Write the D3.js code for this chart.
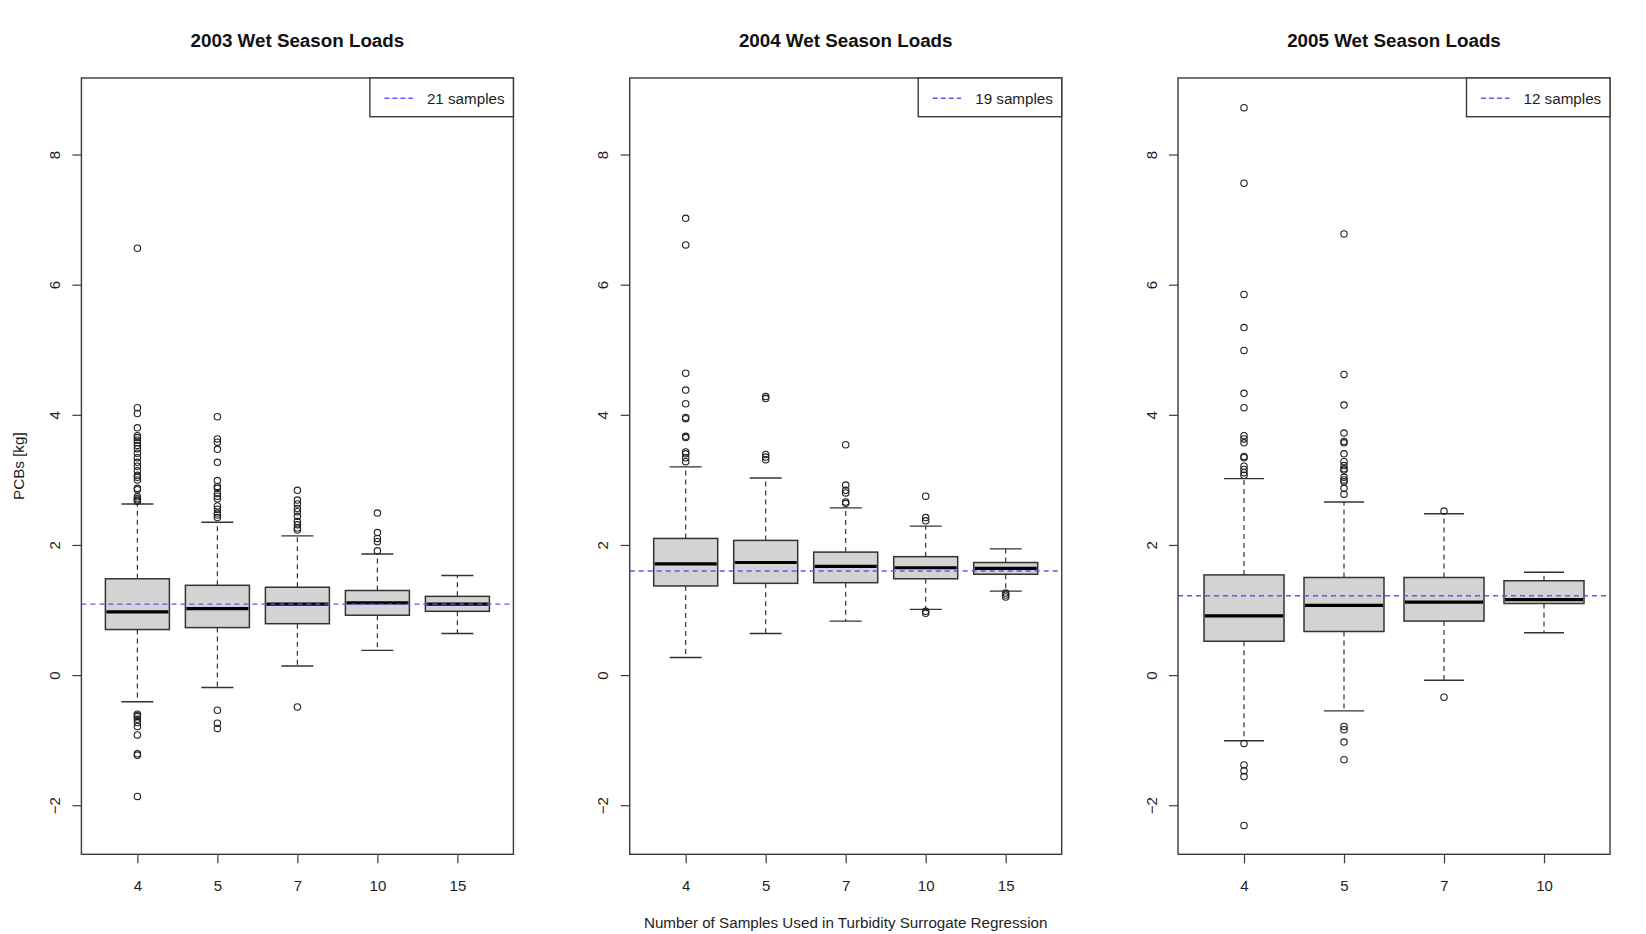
<!DOCTYPE html>
<html>
<head>
<meta charset="utf-8">
<script src="https://cdn.jsdelivr.net/npm/d3@7"></script>
<style>
  html, body { margin: 0; padding: 0; background: #ffffff; }
  svg { display: block; font-family: "Liberation Sans", Arial, sans-serif; }
</style>
</head>
<body>
<svg id="chart" width="1646" height="934"></svg>
<script>
// ---------------- DATA ----------------
const panelTitles = ["2003 Wet Season Loads", "2004 Wet Season Loads", "2005 Wet Season Loads"];
const legendLabels = ["21 samples", "19 samples", "12 samples"];
const referenceValues = [1.09, 1.60, 1.22];
const yTickValues = [-2, 0, 2, 4, 6, 8];
const yAxisTitle = "PCBs [kg]";
const xAxisTitle = "Number of Samples Used in Turbidity Surrogate Regression";

// 2003
const categories2003 = ["4", "5", "7", "10", "15"];
const lower2003  = [-0.41, -0.19, 0.14, 0.38, 0.64];
const q1_2003    = [0.70, 0.73, 0.79, 0.92, 0.98];
const median2003 = [0.97, 1.02, 1.09, 1.11, 1.09];
const q3_2003    = [1.48, 1.38, 1.35, 1.30, 1.21];
const upper2003  = [2.63, 2.35, 2.14, 1.86, 1.53];
const outliers2003 = [
  [6.56, 4.11, 4.02, 3.80, 3.68, 3.65, 3.61, 3.57, 3.53, 3.48, 3.41, 3.34, 3.27, 3.21, 3.14, 3.07, 3.04, 3.00, 2.87, 2.85, 2.74, 2.71, 2.69, 2.67,
   -0.60, -0.62, -0.64, -0.68, -0.73, -0.79, -0.92, -1.21, -1.23, -1.865],
  [3.97, 3.63, 3.58, 3.47, 3.27, 2.99, 2.90, 2.87, 2.79, 2.75, 2.71, 2.60, 2.55, 2.49, 2.46, 2.42, -0.54, -0.74, -0.82],
  [2.84, 2.69, 2.63, 2.56, 2.51, 2.44, 2.36, 2.31, 2.26, 2.23, -0.49],
  [2.49, 2.19, 2.10, 2.05, 1.91],
  []
];

// 2004
const categories2004 = ["4", "5", "7", "10", "15"];
const lower2004  = [0.27, 0.64, 0.83, 1.01, 1.29];
const q1_2004    = [1.37, 1.41, 1.42, 1.48, 1.55];
const median2004 = [1.71, 1.73, 1.67, 1.65, 1.64];
const q3_2004    = [2.10, 2.07, 1.89, 1.82, 1.73];
const upper2004  = [3.20, 3.03, 2.57, 2.29, 1.94];
const outliers2004 = [
  [7.02, 6.61, 4.64, 4.38, 4.17, 3.96, 3.94, 3.67, 3.65, 3.43, 3.40, 3.34, 3.28],
  [4.28, 4.25, 3.39, 3.35, 3.31],
  [3.54, 2.92, 2.84, 2.80, 2.66, 2.64],
  [2.75, 2.42, 2.37, 0.98, 0.95],
  [1.26, 1.23, 1.20]
];

// 2005
const categories2005 = ["4", "5", "7", "10"];
const lower2005  = [-1.01, -0.55, -0.08, 0.65];
const q1_2005    = [0.52, 0.67, 0.83, 1.10];
const median2005 = [0.91, 1.07, 1.12, 1.16];
const q3_2005    = [1.54, 1.50, 1.50, 1.45];
const upper2005  = [3.02, 2.66, 2.48, 1.58];
const outliers2005 = [
  [8.72, 7.56, 5.85, 5.34, 4.99, 4.33, 4.11, 3.68, 3.63, 3.57, 3.36, 3.34, 3.21, 3.16, 3.11, 3.07, -1.05, -1.38, -1.47, -1.56, -2.31],
  [6.78, 4.62, 4.15, 3.72, 3.59, 3.57, 3.40, 3.28, 3.22, 3.17, 3.15, 3.04, 3.00, 2.97, 2.87, 2.78, -0.79, -0.84, -1.03, -1.30],
  [2.52, -0.34],
  []
];

// --------------- assemble panels ---------------
const panels = [
  {title: panelTitles[0], legend: legendLabels[0], ref: referenceValues[0], cats: categories2003,
   lo: lower2003, q1: q1_2003, med: median2003, q3: q3_2003, hi: upper2003, out: outliers2003},
  {title: panelTitles[1], legend: legendLabels[1], ref: referenceValues[1], cats: categories2004,
   lo: lower2004, q1: q1_2004, med: median2004, q3: q3_2004, hi: upper2004, out: outliers2004},
  {title: panelTitles[2], legend: legendLabels[2], ref: referenceValues[2], cats: categories2005,
   lo: lower2005, q1: q1_2005, med: median2005, q3: q3_2005, hi: upper2005, out: outliers2005}
];

// --------------- layout ---------------
const svg = d3.select("#chart");
const firstLeft = 81.4, pitch = 548.3, plotW = 432;
const plotTop = 78, plotBottom = 854.3;
const axisColor = "#3a3a3a";
const textColor = "#1e1e1e";

const y = d3.scaleLinear().domain([-2.754, 9.176]).range([plotBottom, plotTop]);

panels.forEach((p, i) => {
  const left = firstLeft + i * pitch;
  const n = p.cats.length;
  const x = d3.scaleLinear()
    .domain([0.5 - 0.04 * n, n + 0.5 + 0.04 * n])
    .range([left, left + plotW]);
  const unit = x(2) - x(1);
  const boxW = 0.8 * unit;
  const capW = 0.5 * boxW;

  const g = svg.append("g");

  // title
  g.append("text")
    .attr("x", left + plotW / 2).attr("y", 47)
    .attr("text-anchor", "middle")
    .attr("font-size", "18.8px").attr("font-weight", "bold")
    .attr("fill", "#111")
    .text(p.title);

  // y axis
  const yAxis = d3.axisLeft(y).tickValues(yTickValues).tickSize(9).tickSizeOuter(0).tickFormat(d3.format("d"));
  const ya = g.append("g").attr("transform", `translate(${left},0)`).call(yAxis);
  ya.select(".domain").remove();
  ya.selectAll(".tick line").attr("stroke", axisColor).attr("stroke-width", 1.2);
  ya.selectAll(".tick text")
    .attr("x", null).attr("dy", null)
    .attr("transform", "translate(-27,0) rotate(-90)")
    .attr("text-anchor", "middle")
    .attr("dominant-baseline", "central")
    .attr("font-size", "15px")
    .attr("font-family", "Liberation Sans, Arial, sans-serif")
    .attr("fill", textColor);

  // x axis
  const xAxis = d3.axisBottom(x).tickValues(d3.range(1, n + 1)).tickSize(9).tickSizeOuter(0)
    .tickFormat(d => p.cats[d - 1]);
  const xa = g.append("g").attr("transform", `translate(0,${plotBottom})`).call(xAxis);
  xa.select(".domain").remove();
  xa.selectAll(".tick line").attr("stroke", axisColor).attr("stroke-width", 1.2);
  xa.selectAll(".tick text")
    .attr("y", 31).attr("dy", null)
    .attr("dominant-baseline", "central")
    .attr("font-size", "15px")
    .attr("font-family", "Liberation Sans, Arial, sans-serif")
    .attr("fill", textColor);

  const idx = d3.range(n);

  // whiskers (dashed)
  g.selectAll(".whiskHi").data(idx).join("line")
    .attr("x1", d => x(d + 1)).attr("x2", d => x(d + 1))
    .attr("y1", d => y(p.q3[d])).attr("y2", d => y(p.hi[d]))
    .attr("stroke", "#333").attr("stroke-width", 1.2).attr("stroke-dasharray", "5,4");
  g.selectAll(".whiskLo").data(idx).join("line")
    .attr("x1", d => x(d + 1)).attr("x2", d => x(d + 1))
    .attr("y1", d => y(p.q1[d])).attr("y2", d => y(p.lo[d]))
    .attr("stroke", "#333").attr("stroke-width", 1.2).attr("stroke-dasharray", "5,4");
  // caps
  g.selectAll(".capHi").data(idx).join("line")
    .attr("x1", d => x(d + 1) - capW / 2).attr("x2", d => x(d + 1) + capW / 2)
    .attr("y1", d => y(p.hi[d])).attr("y2", d => y(p.hi[d]))
    .attr("stroke", "#333").attr("stroke-width", 1.4);
  g.selectAll(".capLo").data(idx).join("line")
    .attr("x1", d => x(d + 1) - capW / 2).attr("x2", d => x(d + 1) + capW / 2)
    .attr("y1", d => y(p.lo[d])).attr("y2", d => y(p.lo[d]))
    .attr("stroke", "#333").attr("stroke-width", 1.4);

  // boxes
  g.selectAll(".box").data(idx).join("rect")
    .attr("x", d => x(d + 1) - boxW / 2).attr("width", boxW)
    .attr("y", d => y(p.q3[d])).attr("height", d => y(p.q1[d]) - y(p.q3[d]))
    .attr("fill", "#d3d3d3").attr("stroke", "#333").attr("stroke-width", 1.5);

  // medians
  g.selectAll(".med").data(idx).join("line")
    .attr("x1", d => x(d + 1) - boxW / 2 + 1).attr("x2", d => x(d + 1) + boxW / 2 - 1)
    .attr("y1", d => y(p.med[d])).attr("y2", d => y(p.med[d]))
    .attr("stroke", "#000").attr("stroke-width", 3.2);

  // outliers
  const pts = [];
  p.out.forEach((arr, k) => arr.forEach(v => pts.push({k, v})));
  g.selectAll(".out").data(pts).join("circle")
    .attr("cx", d => x(d.k + 1)).attr("cy", d => y(d.v)).attr("r", 3.2)
    .attr("fill", "none").attr("stroke", "#222").attr("stroke-width", 1.1);

  // reference line
  g.append("line")
    .attr("x1", left).attr("x2", left + plotW)
    .attr("y1", y(p.ref)).attr("y2", y(p.ref))
    .attr("stroke", "#5a5aff").attr("stroke-width", 1.4).attr("stroke-dasharray", "5,4");

  // plot frame
  g.append("rect")
    .attr("x", left).attr("y", plotTop).attr("width", plotW).attr("height", plotBottom - plotTop)
    .attr("fill", "none").attr("stroke", axisColor).attr("stroke-width", 1.4);

  // legend
  const lgW = 143.5, lgH = 38.7;
  const lx = left + plotW - lgW;
  const lg = g.append("g");
  lg.append("rect").attr("x", lx).attr("y", plotTop).attr("width", lgW).attr("height", lgH)
    .attr("fill", "#fff").attr("stroke", axisColor).attr("stroke-width", 1.4);
  lg.append("line")
    .attr("x1", lx + 14.5).attr("x2", lx + 43)
    .attr("y1", plotTop + 20.3).attr("y2", plotTop + 20.3)
    .attr("stroke", "#5a5aff").attr("stroke-width", 1.4).attr("stroke-dasharray", "5,3");
  lg.append("text")
    .attr("x", lx + 57).attr("y", plotTop + 20.3)
    .attr("dominant-baseline", "central")
    .attr("font-size", "15.2px").attr("fill", textColor)
    .text(p.legend);

  // axis titles
  if (i === 0) {
    g.append("text")
      .attr("transform", `translate(18.5,${(plotTop + plotBottom) / 2}) rotate(-90)`)
      .attr("text-anchor", "middle").attr("dominant-baseline", "central")
      .attr("font-size", "15.2px").attr("fill", textColor)
      .text(yAxisTitle);
  }
  if (i === 1) {
    g.append("text")
      .attr("x", left + plotW / 2).attr("y", 922)
      .attr("text-anchor", "middle").attr("dominant-baseline", "central")
      .attr("font-size", "15.2px").attr("fill", textColor)
      .text(xAxisTitle);
  }
});
</script>
</body>
</html>
